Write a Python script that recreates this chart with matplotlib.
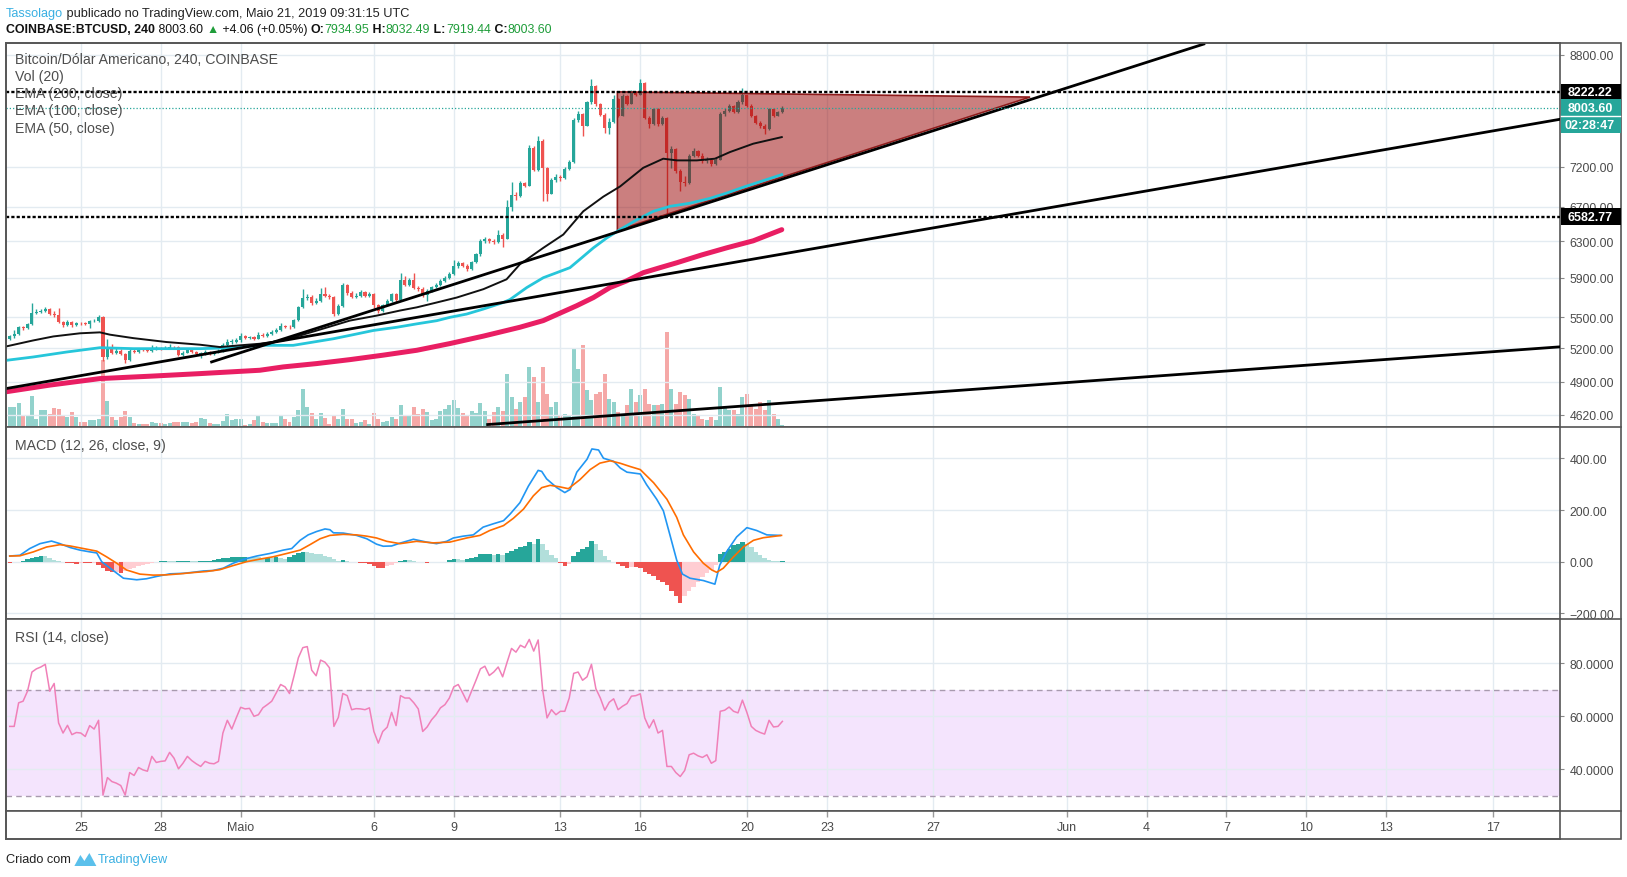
import numpy as np
import matplotlib
matplotlib.use("Agg")
import matplotlib.pyplot as plt
from matplotlib.patches import Polygon, Rectangle
from matplotlib.lines import Line2D
from matplotlib.transforms import IdentityTransform

plt.rcParams['font.family'] = ['Liberation Sans', 'DejaVu Sans']

# x axis unit: days counted from 1 May 2019 00:00, 4h candles
first_day = -8 - 2 / 3          # 22 Apr 08:00
first_open = 5290

closes = [5315, 5340, 5400, 5390, 5430, 5545, 5555, 5560, 5585, 5530,
          5520, 5450, 5420, 5455, 5420, 5445, 5440, 5430, 5460, 5465,
          5500, 5120, 5212, 5160, 5180, 5150, 5090, 5180, 5170, 5190,
          5185, 5175, 5200, 5205, 5200, 5205, 5215, 5210, 5140, 5160,
          5185, 5170, 5150, 5150, 5170, 5150, 5165, 5180, 5230, 5260,
          5265, 5275, 5320, 5300, 5305, 5290, 5330, 5320, 5340, 5355,
          5375, 5410, 5405, 5400, 5470, 5596, 5690, 5700, 5640, 5660,
          5730, 5710, 5700, 5530, 5610, 5830, 5740, 5705, 5710, 5750,
          5715, 5730, 5620, 5560, 5620, 5660, 5730, 5670, 5880, 5830,
          5880, 5790, 5780, 5720, 5765, 5800, 5830, 5870, 5900, 5940,
          6025, 6060, 6030, 5990, 6070, 6154, 6300, 6320, 6300, 6290,
          6370, 6330, 6700, 6840, 6830, 6990, 6960, 7450, 7160, 7540,
          7180, 6860, 7030, 7070, 7050, 7176, 7260, 7820, 7910, 7750,
          8076, 8320, 8050, 7900, 7720, 7800, 8120, 7890, 8170, 8060,
          8220, 8190, 8370, 7860, 7770, 7980, 7770, 7860, 7380, 7430,
          7150, 7000, 6990, 7340, 7410, 7340, 7270, 7280, 7230, 7290,
          7910, 7960, 8030, 7940, 8080, 8180, 8030, 7890, 7790, 7750,
          7700, 7980, 7890, 7934.95, 8003.60]

highs = [5330, 5370, 5410, 5415, 5445, 5640, 5580, 5585, 5600, 5595,
         5560, 5590, 5465, 5470, 5465, 5455, 5455, 5450, 5475, 5480,
         5525, 5510, 5290, 5240, 5200, 5195, 5160, 5195, 5195, 5205,
         5200, 5200, 5230, 5220, 5215, 5220, 5240, 5225, 5220, 5175,
         5200, 5195, 5180, 5170, 5185, 5180, 5180, 5195, 5250, 5290,
         5285, 5300, 5350, 5330, 5320, 5315, 5360, 5345, 5355, 5370,
         5395, 5440, 5425, 5420, 5480, 5610, 5780, 5730, 5720, 5690,
         5790, 5800, 5730, 5715, 5630, 5850, 5835, 5760, 5740, 5770,
         5765, 5750, 5745, 5630, 5635, 5680, 5745, 5740, 5955, 5920,
         5900, 5950, 5820, 5800, 5780, 5815, 5850, 5890, 5920, 5960,
         6090, 6085, 6075, 6045, 6085, 6170, 6320, 6345, 6340, 6320,
         6430, 6390, 6780, 7000, 6880, 7020, 7010, 7480, 7470, 7600,
         7560, 7200, 7060, 7100, 7090, 7200, 7290, 7850, 7950, 7920,
         8100, 8420, 8340, 8070, 7920, 7860, 8180, 8140, 8200, 8190,
         8260, 8240, 8420, 8380, 7880, 8000, 7990, 7880, 7870, 7470,
         7440, 7170, 7080, 7360, 7450, 7420, 7380, 7320, 7300, 7310,
         7940, 8000, 8060, 8040, 8110, 8290, 8190, 8050, 7900, 7810,
         7770, 8000, 7990, 7950, 8032.49]

lows = [5280, 5300, 5325, 5375, 5380, 5425, 5530, 5540, 5550, 5520,
        5505, 5440, 5400, 5415, 5405, 5415, 5425, 5420, 5395, 5450,
        5455, 5080, 5100, 5145, 5150, 5140, 5070, 5085, 5160, 5160,
        5175, 5165, 5170, 5190, 5190, 5195, 5200, 5200, 5130, 5130,
        5155, 5160, 5140, 5110, 5140, 5140, 5140, 5155, 5170, 5220,
        5245, 5250, 5265, 5290, 5290, 5275, 5285, 5305, 5310, 5330,
        5345, 5365, 5390, 5385, 5390, 5460, 5590, 5670, 5625, 5630,
        5650, 5700, 5680, 5510, 5520, 5600, 5720, 5690, 5690, 5700,
        5700, 5705, 5590, 5540, 5550, 5610, 5650, 5655, 5660, 5815,
        5820, 5780, 5760, 5700, 5660, 5755, 5790, 5820, 5860, 5890,
        5930, 6010, 6015, 5970, 5980, 6060, 6140, 6280, 6280, 6270,
        6280, 6230, 6320, 6650, 6780, 6820, 6940, 6950, 7140, 7150,
        6770, 6770, 6850, 7010, 7020, 7040, 7160, 7250, 7800, 7600,
        7740, 8060, 8020, 7880, 7650, 7630, 7790, 7870, 7880, 8040,
        8050, 8170, 8180, 7840, 7720, 7760, 7740, 7760, 6600, 7180,
        7120, 6890, 6960, 6980, 7320, 7320, 7250, 7250, 7210, 7220,
        7280, 7890, 7940, 7920, 7930, 8060, 8010, 7870, 7770, 7720,
        7640, 7690, 7870, 7880, 7919.44]

volumes = [2000, 2000, 2400, 1100, 1200, 3100, 800, 1700, 1700, 1300,
           1900, 1800, 1200, 1000, 1500, 1000, 500, 500, 700, 700,
           800, 6700, 2600, 1000, 700, 1000, 1600, 1000, 400, 300,
           300, 300, 500, 400, 400, 300, 400, 500, 500, 500,
           500, 400, 500, 900, 800, 400, 300, 300, 600, 1300,
           700, 800, 800, 200, 300, 700, 1200, 500, 400, 400,
           400, 1200, 800, 500, 1000, 1700, 3800, 2000, 1400, 800,
           1400, 900, 300, 1200, 800, 1800, 800, 800, 400, 500,
           700, 300, 1400, 800, 500, 600, 1000, 800, 2200, 1200,
           1200, 2000, 1300, 1800, 1500, 700, 800, 1600, 1800, 2200,
           2700, 1900, 1400, 1200, 1600, 1400, 2400, 1600, 800, 1500,
           2000, 1600, 5300, 3000, 1800, 2500, 3000, 6000, 5000, 2500,
           6000, 3300, 2000, 2500, 1200, 1300, 1200, 7800, 5800, 8200,
           3700, 2700, 3300, 3500, 5300, 2800, 2500, 1500, 1300, 2200,
           3800, 2500, 3200, 3800, 2300, 2200, 2200, 2300, 9500, 3800,
           2300, 3500, 3200, 2800, 1300, 1200, 800, 700, 1000, 700,
           4000, 2000, 1700, 1700, 1300, 3000, 3300, 2200, 1800, 2500,
           1700, 2700, 1300, 800, 200]

# EMA curves (day, price)
ema50_day = [-8.78, -7.79, -7.03, -6.03, -5.28, -4.91, -4.03, -2.78, -1.53, -0.78,
             -0.03, 0.72, 1.60, 2.85, 4.10, 5.11, 5.98, 6.61, 7.36, 8.11,
             9.11, 9.98, 10.48, 11.36, 12.11, 12.86, 13.61, 14.24, 15.11, 15.86,
             16.37, 17.12, 17.80, 18.37, 19.24, 20.31]
ema50_val = [5220, 5275, 5313, 5343, 5352, 5330, 5297, 5260, 5235, 5213,
             5229, 5244, 5275, 5369, 5466, 5515, 5565, 5597, 5646, 5696,
             5782, 5885, 6045, 6226, 6376, 6647, 6823, 6949, 7185, 7303,
             7281, 7281, 7303, 7391, 7502, 7591]
ema100_day = [-8.78, -7.79, -6.53, -5.28, -4.03, -2.78, -1.53, -0.28, 0.72, 1.97,
              2.73, 3.48, 4.23, 4.98, 5.86, 6.61, 7.36, 7.86, 8.48, 9.11,
              9.86, 10.11, 10.74, 11.36, 11.86, 12.36, 12.80, 13.24, 13.74, 14.24,
              14.86, 15.49, 16.11, 16.87, 17.62, 18.24, 18.87, 20.31]
ema100_val = [5091, 5121, 5167, 5207, 5198, 5198, 5198, 5207, 5229, 5229,
              5260, 5291, 5330, 5370, 5401, 5434, 5465, 5498, 5530, 5580,
              5646, 5676, 5799, 5902, 5955, 6009, 6116, 6226, 6337, 6433,
              6545, 6647, 6706, 6744, 6803, 6867, 6940, 7098]
ema200_day = [-8.78, -7.16, -5.28, -3.40, -1.53, 0.72, 1.60, 2.85, 4.10, 5.35,
              6.61, 7.86, 9.11, 10.48, 11.36, 12.61, 13.24, 13.86, 14.49, 15.11,
              15.74, 16.37, 17.30, 18.24, 19.24, 20.31]
ema200_val = [4813, 4870, 4927, 4948, 4971, 5001, 5031, 5061, 5097, 5138,
              5183, 5246, 5316, 5401, 5466, 5613, 5696, 5799, 5869, 5955,
              6009, 6062, 6147, 6226, 6305, 6432]

# drawings
trend_lines = [((-8.80, 4840), (49.52, 7837)),
               ((-1.09, 5076), (36.15, 8967)),
               ((9.27, 4538), (49.52, 5215))]
triangle = [(14.14, 8231), (29.63, 8155), (14.14, 6425)]
level_high = 8222.22
level_low = 6582.77
last_price = 8003.60

# MACD (12, 26, close, 9): lines sampled at candle index, histogram per candle
macd_idx = [0, 2.3, 4.5, 6.8, 9.4, 11.3, 13.6, 15.8, 18.1, 19.6, 20.7, 22.6, 25.6, 28.6,
            30.8, 33.1, 36.1, 39.1, 41.3, 43.6, 45.8, 48.1, 50.3, 52.6, 55.6, 58.6, 61.6,
            63.5, 65.4, 67.2, 69.1, 71.0, 72.1, 72.9, 75.1, 78.1, 80.4, 82.6, 84.1, 86.0,
            87.9, 90.9, 93.9, 96.1, 98.4, 99.9, 102.1, 104.4, 106.6, 108.9, 111.2, 112.7,
            114.9, 116.8, 119.0, 119.8, 120.9, 123.2, 125.0, 126.2, 127.7, 130.0, 131.1,
            132.6, 133.7, 136.0, 137.5, 139.0, 142.0, 143.4, 145.7, 147.2, 148.7, 150.2,
            151.5, 153.2, 156.2, 158.8, 159.9, 161.4, 163.7, 166.0, 168.2, 170.5, 173.5]
macd_val = [22, 25, 51, 70, 80, 70, 55, 45, 38, 34, 0, -25, -64, -70,
            -66, -57, -47, -45, -41, -36, -34, -25, -6, 9, 22, 32, 45,
            51, 83, 104, 117, 127, 124, 112, 111, 102, 89, 68, 60, 61,
            72, 87, 76, 70, 79, 92, 99, 104, 134, 147, 159, 185,
            229, 293, 354, 350, 321, 287, 268, 280, 347, 397, 437,
            433, 401, 389, 363, 347, 340, 299, 242, 197, 102, 6,
            -48, -64, -73, -87, -13, 38, 96, 132, 121, 104, 102]
signal_idx = [0, 2.3, 5.3, 8.3, 11.3, 13.6, 16.6, 19.6, 21.8, 24.1, 26.3, 29.3, 32.3,
              35.3, 38.3, 41.3, 44.3, 47.3, 50.3, 53.3, 56.3, 59.3, 62.4, 65.4, 67.6,
              69.9, 72.1, 75.1, 78.1, 80.4, 82.6, 84.9, 87.9, 91.6, 95.4, 99.1, 102.9,
              105.9, 108.1, 111.2, 113.4, 115.7, 117.9, 119.8, 121.7, 123.9, 125.8, 128.4,
              130.7, 132.9, 135.2, 137.4, 139.7, 142.0, 145.0, 148.0, 150.2, 151.7, 154.0,
              156.2, 158.1, 159.2, 160.7, 163.0, 165.2, 167.5, 169.7, 173.8]
signal_val = [22, 23, 38, 57, 66, 61, 51, 41, 19, -6, -32, -48, -52,
              -51, -47, -42, -38, -31, -15, 0, 10, 19, 32, 45, 66,
              89, 102, 106, 104, 99, 92, 79, 70, 79, 73, 76, 92,
              102, 121, 140, 168, 204, 255, 287, 296, 290, 283, 318,
              357, 382, 391, 382, 369, 357, 306, 242, 172, 104, 38,
              -6, -32, -41, -25, 19, 57, 83, 93, 102]
histogram = [-4, -3, -1, 2.5, 10, 15, 19, 24, 22, 15,
             6, 2.5, -1, -6, -6, -7, -5, -5, -5, -4,
             -13, -25, -36, -41, -40, -45, -36, -29, -23, -17,
             -13, -9, -5, -2, 4, 4, 2, 1, 1, 3,
             4, 3, 1, 3, 4, 4, 5, 10, 13, 15,
             18, 19, 20, 20, 19, 18, 17, 15, 15, 14,
             18, 13, 11, 17, 25, 32, 38, 36, 33, 31,
             28, 24, 18, 9, 4, 5, 1, 0, -3, -6,
             -6, -9, -17, -23, -23, -15, -14, -5, 4, 6,
             5, 1, 0, -3, -4, -1, -1, 0, 0.5, 8,
             10, 9, 8, 10, 15, 20, 28, 28, 28, 27,
             28, 25, 32, 41, 48, 56, 61, 76, 70, 89,
             70, 45, 25, 13, -6, -18, -10, 23, 38, 51,
             56, 82, 70, 45, 22, 5, -3, -10, -17, -25,
             -19, -19, -25, -38, -48, -57, -70, -79, -89, -115,
             -134, -159, -134, -112, -99, -79, -61, -45, -32, -13,
             28, 36, 48, 64, 70, 76, 70, 57, 36, 25,
             13, 8, 3, 1, 1]

# RSI (14, close) per candle
rsi = [56.1, 56.1, 65.0, 65.6, 69.4, 76.6, 77.8, 78.5, 79.5, 69.4,
       72.3, 57.4, 53.6, 56.5, 53.0, 53.8, 53.6, 52.3, 56.4, 55.1,
       58.4, 30.2, 36.8, 35.3, 34.7, 33.8, 30.2, 38.7, 37.6, 40.6,
       39.7, 39.2, 44.8, 42.5, 42.9, 43.1, 46.3, 44.1, 40.1, 42.2,
       44.8, 43.2, 42.0, 41.0, 42.9, 42.2, 42.0, 42.9, 53.6, 58.4,
       55.1, 59.3, 63.3, 62.7, 62.9, 59.9, 60.5, 63.1, 64.3, 65.6,
       68.7, 71.9, 71.0, 68.5, 75.0, 82.0, 85.8, 86.2, 77.3, 75.2,
       81.1, 80.3, 78.2, 56.1, 59.5, 68.5, 67.7, 62.4, 62.8, 62.7,
       62.4, 63.1, 54.2, 49.8, 54.2, 55.8, 61.4, 56.4, 67.7, 66.8,
       66.8, 65.0, 62.7, 54.2, 55.9, 58.6, 60.5, 63.1, 64.3, 66.8,
       71.0, 71.9, 68.7, 65.3, 69.4, 73.5, 77.8, 78.8, 75.3, 76.6,
       78.5, 74.8, 80.3, 85.5, 84.1, 86.7, 85.8, 88.9, 84.5, 88.7,
       70.0, 59.3, 62.4, 60.5, 61.8, 61.8, 66.8, 76.1, 76.6, 73.5,
       74.8, 79.5, 70.3, 66.8, 62.2, 65.2, 66.5, 62.4, 63.7, 64.7,
       67.5, 67.7, 68.4, 59.3, 55.5, 58.6, 53.6, 54.6, 41.0, 41.0,
       38.7, 37.2, 39.5, 45.4, 46.0, 45.0, 44.4, 45.4, 42.2, 43.2,
       61.8, 62.2, 63.4, 61.8, 61.2, 66.0, 61.4, 56.1, 54.6, 53.8,
       53.2, 58.4, 55.9, 56.1, 58.0]

price_ticks = [8800, 7200, 6700, 6300, 5900, 5500, 5200, 4900, 4620]
macd_ticks = [400, 200, 0, -200]
macd_labels = ['400.00', '200.00', '0.00', '\u2212200.00']
rsi_ticks = [80, 60, 40]
date_days = [-6, -3, 0, 5, 8, 12, 15, 19, 22, 26, 31, 34, 37, 40, 43, 47]
date_labels = ['25', '28', 'Maio', '6', '9', '13', '16', '20', '23', '27',
               'Jun', '4', '7', '10', '13', '17']

UP, DOWN = '#26a69a', '#ef5350'
GRID, FRAME, LABEL = '#e3ebf1', '#555555', '#4a4a4a'

W, H = 1627, 878
fig = plt.figure(figsize=(W / 100, H / 100), dpi=100)
fig.patch.set_facecolor('white')


def fx(px):
    return px / W


def fy(py):
    return 1 - py / H


L_PX, R_PX, OUT_PX = 6.2, 1560, 1621
X_LO, X_HI = -8.80, 49.52


def panel(top, bottom):
    return fig.add_axes([fx(L_PX), fy(bottom), fx(R_PX) - fx(L_PX), fy(top) - fy(bottom)])


def style(a):
    a.set_xlim(X_LO, X_HI)
    a.set_xticks(date_days)
    a.tick_params(axis='x', length=0, labelbottom=False)
    a.grid(True, color=GRID, lw=1)
    a.set_axisbelow(True)
    for s in a.spines.values():
        s.set_color(FRAME)
        s.set_linewidth(1.2)
    a.yaxis.tick_right()
    a.tick_params(axis='y', length=3, color='#888888', labelsize=8.8,
                  labelcolor=LABEL, pad=4)


ax_vol = panel(43.6, 427.5)
ax = panel(43.6, 427.5)
ax_macd = panel(427.5, 620)
ax_rsi = panel(620, 812)
ax_time = panel(812, 840)

n = len(closes)
xs = first_day + np.arange(n) / 6
c = np.array(closes, dtype=float)
o = np.concatenate([[first_open], c[:-1]])
hi = np.maximum(np.array(highs, dtype=float), np.maximum(o, c))
lo = np.minimum(np.array(lows, dtype=float), np.minimum(o, c))
up = c >= o
col = np.where(up, UP, DOWN)

# volume (separate scale, behind the price panel)
ax_vol.set_xlim(X_LO, X_HI)
ax_vol.set_ylim(0, 38400)
ax_vol.bar(xs, volumes, width=0.15, color=np.where(up, '#92d2cc', '#f5a8a7'), lw=0)
ax_vol.axis('off')

# price panel
style(ax)
ax.patch.set_visible(False)
ax.set_yscale('log')
ax.set_ylim(4522, 8990)
ax.set_yticks(price_ticks)
ax.set_yticklabels([f'{v:.2f}' for v in price_ticks])
ax.yaxis.set_minor_locator(matplotlib.ticker.NullLocator())

ax.vlines(xs, lo, hi, colors=col, lw=1, zorder=3)
ax.bar(xs, np.maximum(np.abs(c - o), 6), bottom=np.minimum(o, c), width=0.115,
       color=col, lw=0, zorder=4)

ax.add_patch(Polygon(triangle, closed=True, fc=(0.6, 0, 0, 0.5), ec='#8e1b1b',
                     lw=1.2, zorder=5))

ax.plot(ema200_day, ema200_val, color='#e91e63', lw=3.6, zorder=6, solid_capstyle='round')
ax.plot(ema100_day, ema100_val, color='#26c6da', lw=2.0, zorder=6)
ax.plot(ema50_day, ema50_val, color='#111111', lw=1.4, zorder=6)

for (d0, p0), (d1, p1) in trend_lines:
    ax.plot([d0, d1], [p0, p1], color='black', lw=2, zorder=7)

ax.axhline(level_high, color='black', lw=1.7, ls=(0, (1.35, 0.9)), zorder=8)
ax.axhline(level_low, color='black', lw=1.7, ls=(0, (1.35, 0.9)), zorder=8)
ax.axhline(last_price, color=UP, lw=0.9, ls=(0, (1, 1.6)), zorder=8)

# MACD panel
style(ax_macd)
ax_macd.set_ylim(-222, 524)
ax_macd.set_yticks(macd_ticks)
ax_macd.set_yticklabels(macd_labels)
hist = np.array(histogram, dtype=float)
prev = np.concatenate([[hist[0]], hist[:-1]])
hcol = np.where(hist >= 0, np.where(hist >= prev, '#26a69a', '#b2dfdb'),
                np.where(hist <= prev, '#ef5350', '#ffcdd2'))
ax_macd.bar(xs, hist, width=1 / 6, color=hcol, lw=0, zorder=3)
ax_macd.plot(first_day + np.array(macd_idx) / 6, macd_val, color='#2196f3', lw=1.2, zorder=4)
ax_macd.plot(first_day + np.array(signal_idx) / 6, signal_val, color='#ff6d00', lw=1.2, zorder=4)

# RSI panel
style(ax_rsi)
ax_rsi.set_ylim(24.2, 96.6)
ax_rsi.set_yticks(rsi_ticks)
ax_rsi.set_yticklabels([f'{v:.4f}' for v in rsi_ticks])
ax_rsi.axhspan(30, 70, color='#f4e4fd', lw=0, zorder=0.5)
for lvl in (70, 30):
    ax_rsi.axhline(lvl, color='#a89aae', lw=1, ls=(0, (4, 3)), zorder=1)
ax_rsi.plot(xs, rsi, color='#f080b8', lw=1.1, zorder=3)

# time axis
ax_time.set_xlim(X_LO, X_HI)
ax_time.set_ylim(0, 1)
ax_time.set_xticks([])
ax_time.set_yticks([])
for s in ax_time.spines.values():
    s.set_color(FRAME)
    s.set_linewidth(1.2)
ax_time.vlines(date_days, 0.78, 1.0, color='#9a9a9a', lw=1)
for d, t in zip(date_days, date_labels):
    ax_time.text(d, 0.44, t, ha='center', va='center', fontsize=9, color=LABEL)

# outer frame to the right of the price scale
fig.add_artist(Rectangle((fx(L_PX), fy(840)), fx(OUT_PX) - fx(L_PX), fy(43.6) - fy(840),
                         transform=fig.transFigure, fill=False, ec=FRAME, lw=1.2))
for yy in (427.5, 620, 812):
    fig.add_artist(Line2D([fx(R_PX), fx(OUT_PX)], [fy(yy), fy(yy)],
                          transform=fig.transFigure, color=FRAME, lw=1.2))

# price tags on the right scale
fig.canvas.draw()


def price_tag(price, text, fc, dy=0.0):
    xd, yd = ax.transData.transform((X_HI, price))
    yd -= dy
    fig.add_artist(Rectangle((xd + 0.5, yd - 8.5), OUT_PX - R_PX - 1, 17,
                             transform=IdentityTransform(), fc=fc, ec='none', zorder=20))
    fig.text((xd + 30) / W, yd / H, text, ha='center', va='center', color='white',
             fontsize=9, fontweight='bold', zorder=21)


price_tag(level_high, f'{level_high:.2f}', 'black')
price_tag(level_low, f'{level_low:.2f}', 'black')
price_tag(last_price, f'{last_price:.2f}', UP)
price_tag(last_price, '02:28:47', UP, dy=17)
xd, yd = ax.transData.transform((X_HI, last_price))
fig.add_artist(Line2D([xd + 1, xd + 60], [yd - 8.5, yd - 8.5], transform=IdentityTransform(),
                      color='white', lw=1, zorder=22))

# panel captions
captions = ['Bitcoin/D\u00f3lar Americano, 240, COINBASE', 'Vol (20)', 'EMA (200, close)',
            'EMA (100, close)', 'EMA (50, close)']
for t, yy in zip(captions, [60, 77, 94, 111, 128.5]):
    fig.text(fx(14.5), fy(yy), t, ha='left', va='center', fontsize=10.2,
             color='#4d4d4d', zorder=30)
fig.text(fx(14.5), fy(446), 'MACD (12, 26, close, 9)', ha='left', va='center',
         fontsize=10.2, color='#4d4d4d')
fig.text(fx(14.5), fy(638), 'RSI (14, close)', ha='left', va='center',
         fontsize=10.2, color='#4d4d4d')

# header lines
renderer = fig.canvas.get_renderer()


def text_run(x_px, y_px, pieces, size=9.2):
    x = x_px
    for s, color, weight in pieces:
        t = fig.text(fx(x), fy(y_px), s, ha='left', va='center', fontsize=size,
                     color=color, fontweight=weight)
        x += t.get_window_extent(renderer).width
    return x


GREEN = '#1f9d3a'
text_run(6, 13.5, [('Tassolago', '#3ab0e2', 'normal'),
                   (' publicado no TradingView.com, Maio 21, 2019 09:31:15 UTC', '#222222', 'normal')])
text_run(6, 30, [('COINBASE:BTCUSD, 240', '#111111', 'bold'),
                 (' 8003.60 ', '#111111', 'normal'),
                 ('\u25b2', GREEN, 'normal'),
                 (' +4.06 (+0.05%) ', '#111111', 'normal'),
                 ('O:', '#111111', 'bold'), ('7934.95', GREEN, 'normal'),
                 (' H:', '#111111', 'bold'), ('8032.49', GREEN, 'normal'),
                 (' L:', '#111111', 'bold'), ('7919.44', GREEN, 'normal'),
                 (' C:', '#111111', 'bold'), ('8003.60', GREEN, 'normal')], size=8.9)

# footer with a small logo mark
x_end = text_run(6, 860, [('Criado com ', '#222222', 'normal')], size=9.2)
logo = [(0, 14), (6, 3), (10, 9), (15, 1), (22, 14)]
fig.add_artist(Polygon([(fx(x_end + a), fy(853 + b)) for a, b in logo], closed=True,
                       transform=fig.transFigure, fc='#5bc0eb', ec='none'))
text_run(x_end + 23, 860, [('TradingView', '#3ab0e2', 'normal')], size=9.2)

fig.savefig('out.png', dpi=100)
